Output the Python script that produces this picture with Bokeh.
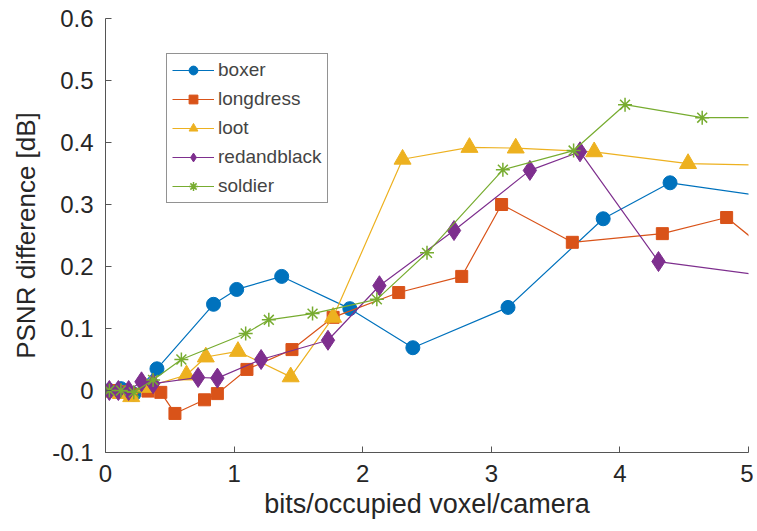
from bokeh.plotting import figure
from bokeh.models import FixedTicker, Legend, LegendItem
from bokeh.embed import file_html
from bokeh.resources import INLINE

boxer_x = [0.03, 0.12, 0.22, 0.40, 0.84, 1.02, 1.37, 1.90, 2.39, 3.13, 3.87, 4.39, 5.6]
boxer_y = [0.0, 0.003, -0.006, 0.035, 0.139, 0.163, 0.184, 0.132, 0.069, 0.134, 0.277, 0.335, 0.299]

longdress_x = [0.03, 0.12, 0.20, 0.33, 0.43, 0.54, 0.77, 0.87, 1.10, 1.45, 1.77, 2.28, 2.77, 3.08, 3.63, 4.33, 4.83, 5.3]
longdress_y = [0.0, -0.002, -0.006, -0.001, -0.003, -0.037, -0.015, -0.005, 0.034, 0.066, 0.118, 0.158, 0.184, 0.300, 0.239, 0.253, 0.279, 0.200]

loot_x = [0.03, 0.12, 0.20, 0.31, 0.63, 0.78, 1.03, 1.44, 1.77, 2.31, 2.83, 3.19, 3.80, 4.53, 5.5]
loot_y = [-0.003, -0.005, -0.010, 0.005, 0.025, 0.054, 0.063, 0.022, 0.118, 0.373, 0.392, 0.391, 0.385, 0.366, 0.362]

rab_x = [0.03, 0.10, 0.18, 0.28, 0.37, 0.72, 0.87, 1.21, 1.73, 2.13, 2.71, 3.30, 3.69, 4.30, 5.6]
rab_y = [0.0, 0.0, 0.0, 0.014, 0.011, 0.021, 0.020, 0.050, 0.081, 0.169, 0.258, 0.355, 0.385, 0.208, 0.172]

soldier_x = [0.03, 0.12, 0.22, 0.37, 0.59, 1.09, 1.27, 1.61, 2.11, 2.50, 3.09, 3.64, 4.04, 4.64, 5.4]
soldier_y = [0.0, 0.0, -0.003, 0.017, 0.050, 0.092, 0.114, 0.124, 0.147, 0.222, 0.356, 0.387, 0.461, 0.440, 0.440]

names = ["boxer", "longdress", "loot", "redandblack", "soldier"]
colors = ["#0072BD", "#D95319", "#EDB120", "#7E2F8E", "#77AC30"]
markers = ["circle", "square", "triangle", "diamond", "asterisk"]
sizes = [14, 12, 17, 20, 14]

x_ticks = [0, 1, 2, 3, 4, 5]
y_ticks = [-0.1, 0.0, 0.1, 0.2, 0.3, 0.4, 0.5, 0.6]
y_labels = ["-0.1", "0", "0.1", "0.2", "0.3", "0.4", "0.5", "0.6"]
x_title = "bits/occupied voxel/camera"
y_title = "PSNR difference [dB]"

FONT = "Liberation Sans"

p = figure(width=753, height=523, output_backend="svg", toolbar_location=None,
           x_range=(0, 5), y_range=(-0.1, 0.6),
           min_border_left=105, min_border_top=18, min_border_right=5, min_border_bottom=71)
p.outline_line_color = None
p.grid.grid_line_color = None
p.background_fill_color = "white"

series = [(boxer_x, boxer_y), (longdress_x, longdress_y), (loot_x, loot_y), (rab_x, rab_y), (soldier_x, soldier_y)]
items = []
for (xs, ys), name, c, m, s in zip(series, names, colors, markers, sizes):
    ln = p.line(xs, ys, line_color=c, line_width=1.2)
    if m == "asterisk":
        sc = p.scatter(xs, ys, marker=m, size=s, line_color=c, line_width=1.5)
    else:
        sc = p.scatter(xs, ys, marker=m, size=s, fill_color=c, line_color=c)
    items.append(LegendItem(label=name, renderers=[ln, sc]))

legend = Legend(items=items, location=(61, 249))
legend.label_text_font = FONT
legend.label_text_font_size = "19px"
legend.border_line_color = "#262626"
legend.border_line_width = 1
legend.glyph_width = 42
legend.glyph_height = 22
legend.label_height = 22
legend.spacing = 7
legend.padding = 5
legend.margin = 0
legend.label_standoff = 4
p.add_layout(legend, "center")

for ax in (p.xaxis, p.yaxis):
    ax.axis_line_color = "#555555"
    ax.major_tick_line_color = "#555555"
    ax.major_tick_in = 6
    ax.major_tick_out = 0
    ax.minor_tick_line_color = None
    ax.major_label_text_font = FONT
    ax.major_label_text_font_size = "24px"
    ax.major_label_text_color = "#262626"
    ax.axis_label_text_font = FONT
    ax.axis_label_text_font_style = "normal"
    ax.axis_label_text_color = "#262626"

p.xaxis.ticker = FixedTicker(ticks=x_ticks)
p.yaxis.ticker = FixedTicker(ticks=y_ticks)
p.yaxis.major_label_overrides = {t: l for t, l in zip(y_ticks, y_labels)}
p.xaxis.major_label_standoff = 12
p.yaxis.major_label_standoff = 12
p.xaxis.axis_label = x_title
p.yaxis.axis_label = y_title
p.xaxis.axis_label_text_font_size = "27px"
p.yaxis.axis_label_text_font_size = "26px"
p.xaxis.axis_label_standoff = 4
p.yaxis.axis_label_standoff = 8

open("out.html", "w").write(file_html(p, INLINE))
